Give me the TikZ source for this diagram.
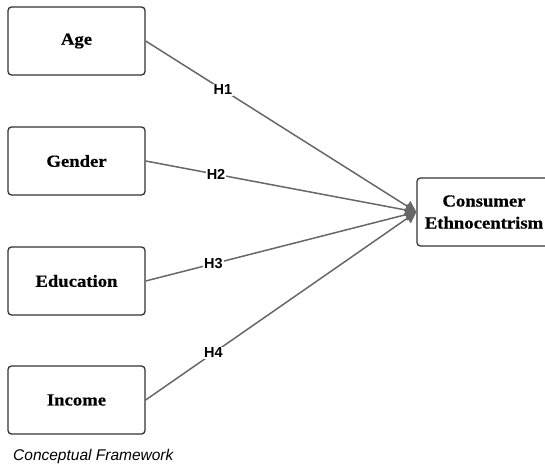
\documentclass[tikz,border=0pt]{standalone}
\usepackage{fontspec}
\setmainfont{Liberation Serif}
\newfontfamily\boxfont[FakeStretch=1.1,FakeBold=0.6]{Liberation Serif}
\newfontfamily\labfont{Liberation Sans}
\usetikzlibrary{arrows.meta}
\definecolor{boxline}{HTML}{333333}
\definecolor{conline}{HTML}{676767}
\begin{document}
\begin{tikzpicture}[x=1pt,y=-1pt,
  varbox/.style={draw=boxline,line width=1.3pt,rounded corners=3.5pt,fill=white,
    minimum width=137pt,minimum height=68pt,inner sep=0pt,
    font=\boxfont\bfseries\fontsize{17}{22}\selectfont,align=center},
  conn/.style={draw=conline,line width=1.5pt,-{Triangle[length=11pt,width=12pt]}},
  hlab/.style={fill=white,inner sep=1pt,font=\labfont\bfseries\fontsize{14.5}{15}\selectfont,text=black}]
\useasboundingbox (0,0) rectangle (545,465);
\node[varbox] (age) at (76.5,41) {Age};
\node[varbox] (gender) at (76.5,161) {Gender};
\node[varbox] (edu) at (76.5,281) {Education};
\node[varbox] (inc) at (76.5,400) {Income};
\node[varbox,minimum width=134pt] (ce) at (484,212) {Consumer\\Ethnocentrism};
\draw[conn] (age.east) -- node[hlab,pos=0.285] {H1} (ce.west);
\draw[conn] (gender.east) -- node[hlab,pos=0.26] {H2} (ce.west);
\draw[conn] (edu.east) -- node[hlab,pos=0.25] {H3} (ce.west);
\draw[conn] (inc.east) -- node[hlab,pos=0.25] {H4} (ce.west);
\node[anchor=west,inner sep=0pt,font=\labfont\itshape\fontsize{15.5}{17}\selectfont] (cap) at (13,456) {Conceptual Framework};
\end{tikzpicture}
\end{document}
